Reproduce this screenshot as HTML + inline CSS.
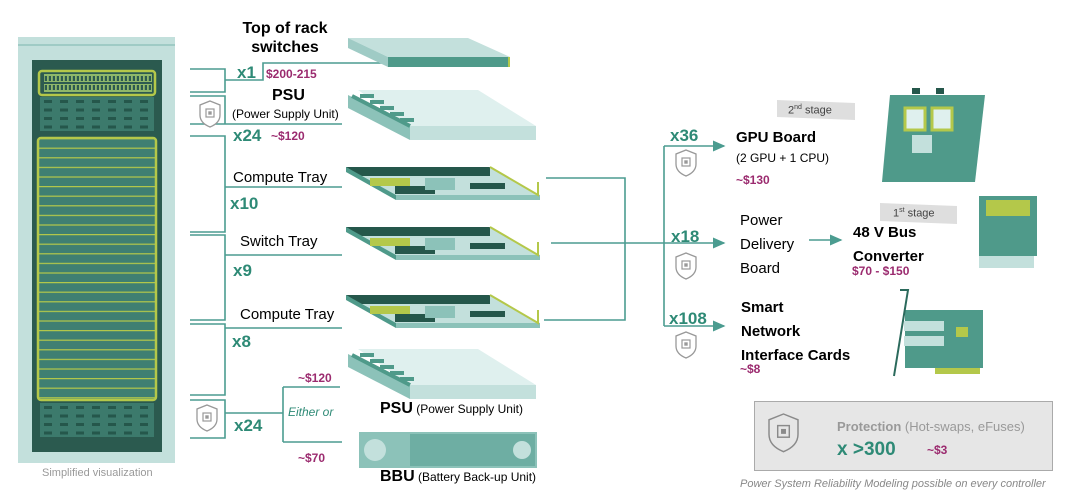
<!DOCTYPE html>
<html><head><meta charset="utf-8"><style>
body{margin:0;background:#fff;width:1080px;height:502px;overflow:hidden;position:relative;font-family:"Liberation Sans",Arial,sans-serif}
.t{position:absolute;white-space:nowrap;line-height:1}
.b{font-weight:bold}
.tl{color:#2e8a76;font-weight:bold;font-size:17px}
.mg{color:#9b2b6f;font-weight:bold;font-size:12px}
</style></head><body>
<svg width="1080" height="502" style="position:absolute;left:0;top:0">
<defs>
<pattern id="rows" x="0" y="138" width="10" height="9.6" patternUnits="userSpaceOnUse"><rect width="10" height="9.6" fill="#3f7f72"/><rect width="10" height="1.2" fill="#b4c84a"/></pattern>
<pattern id="slots" x="40" y="97" width="16" height="8.5" patternUnits="userSpaceOnUse"><rect width="16" height="8.5" fill="#3c7a6c"/><rect x="4" y="3" width="8" height="3" fill="#25574b"/></pattern>
<pattern id="ports" x="44" y="74" width="4" height="9" patternUnits="userSpaceOnUse"><rect width="4" height="9" fill="#8fb86a"/><rect x="0.8" y="2" width="2.2" height="5" fill="#2d5a50"/></pattern>
<marker id="ar" markerWidth="8" markerHeight="8" refX="7" refY="4" orient="auto"><path d="M0,0.5 L8,4 L0,7.5z" fill="#4b9c90"/></marker>
<g id="sh"><path d="M10,0 L20,4 L20,14 Q20,22 10,26 Q0,22 0,14 L0,4z" fill="#fff" stroke="#999" stroke-width="1.3"/><rect x="6" y="8" width="8" height="8" fill="none" stroke="#999" stroke-width="1.2"/><rect x="8.3" y="10.3" width="3.4" height="3.4" fill="#999"/></g>
</defs>
<rect x="18" y="37" width="157" height="426" fill="#c3e0dc"/>
<line x1="18" y1="45" x2="175" y2="45" stroke="#9fcbc5" stroke-width="2"/>
<rect x="32" y="60" width="130" height="392" fill="#2b5a4f"/>
<rect x="39" y="71" width="116" height="24" rx="3" fill="#2d5a50" stroke="#b4c84a" stroke-width="2.5"/>
<rect x="44" y="74" width="108" height="8" fill="url(#ports)"/><rect x="44" y="84" width="108" height="8" fill="url(#ports)"/>
<rect x="40" y="97" width="114" height="34" fill="url(#slots)"/>
<rect x="38" y="138" width="118" height="262" rx="3" fill="url(#rows)" stroke="#b4c84a" stroke-width="2.5"/>
<rect x="40" y="403" width="114" height="34" fill="url(#slots)"/>
<g stroke="#4b9c90" stroke-width="1.6" fill="none">
<path d="M190 69H225V92H190M225 80H263V63H510"/>
<path d="M190 96H225V124H190M225 124H342"/>
<path d="M190 136H225V232H190M225 187H342"/>
<path d="M190 235H225V320H190M225 255H342"/>
<path d="M190 324H225V395H190M225 328H342"/>
<path d="M190 400H225V438H190M225 413H283M283 387V442M283 387H340M283 442H342"/>
<path d="M546 178H625V320H544"/>
<path d="M551 243H724" marker-end="url(#ar)"/>
<path d="M664 146V326"/>
<path d="M664 146H724" marker-end="url(#ar)"/>
<path d="M664 326H724" marker-end="url(#ar)"/>
<path d="M809 240H841" marker-end="url(#ar)"/>
</g>
<use href="#sh" x="200" y="101"/><use href="#sh" x="197" y="405"/>
<use href="#sh" x="676" y="150"/><use href="#sh" x="676" y="253"/><use href="#sh" x="676" y="332"/>
<polygon points="348,38 468,38 510,57 388,57 " fill="#c3e0dc"/>
<polygon points="348,38 388,57 388,67 348,48" fill="#9fcbc5"/>
<rect x="388" y="57" width="120" height="10" fill="#4f9a8a"/><rect x="508" y="57" width="2" height="10" fill="#b4c84a"/>
<g><polygon points="358,90 478,90 536,126 410,126" fill="#dff0ee"/>
<polygon points="348,95 410,126 410,140 348,108" fill="#8cc2b9"/>
<rect x="410" y="126" width="126" height="14" fill="#c3e0dc"/>
<path d="M352 96L410 126M360 96l14 0M370 102l14 0M380 108l14 0M390 114l14 0M400 120l14 0" stroke="#4f9a8a" stroke-width="4"/></g>
<g id="tray"><polygon points="346,167 490,167 540,195 396,195" fill="#c3e0dc"/>
<polygon points="346,167 490,167 490,176 360,176" fill="#25574b"/>
<polygon points="346,167 396,195 396,200 346,172" fill="#4f9a8a"/>
<rect x="396" y="195" width="144" height="5" fill="#8cc2b9"/>
<rect x="370" y="178" width="40" height="8" fill="#b4c84a"/><rect x="395" y="186" width="40" height="8" fill="#25574b"/>
<rect x="425" y="178" width="30" height="12" fill="#8cc2b9"/><rect x="470" y="183" width="35" height="6" fill="#25574b"/>
<path d="M490 167L538 195V182" stroke="#b4c84a" stroke-width="2" fill="none"/></g>
<use href="#tray" y="60"/><use href="#tray" y="128"/>
<g transform="translate(0,259)"><polygon points="358,90 478,90 536,126 410,126" fill="#dff0ee"/>
<polygon points="348,95 410,126 410,140 348,108" fill="#8cc2b9"/>
<rect x="410" y="126" width="126" height="14" fill="#c3e0dc"/>
<path d="M352 96L410 126M360 96l14 0M370 102l14 0M380 108l14 0M390 114l14 0M400 120l14 0" stroke="#4f9a8a" stroke-width="4"/></g>
<rect x="359" y="432" width="178" height="36" fill="#8cc2b9"/><rect x="410" y="434" width="125" height="32" fill="#6eaea3"/>
<circle cx="375" cy="450" r="11" fill="#c3e0dc"/><circle cx="522" cy="450" r="9" fill="#c3e0dc"/>
<polygon points="890,95 985,95 975,182 882,182" fill="#4f9a8a"/>
<rect x="905" y="108" width="20" height="22" fill="#dff0ee" stroke="#b4c84a" stroke-width="3"/><rect x="932" y="108" width="20" height="22" fill="#dff0ee" stroke="#b4c84a" stroke-width="3"/>
<rect x="912" y="135" width="20" height="18" fill="#c3e0dc"/>
<rect x="912" y="88" width="8" height="6" fill="#25574b"/><rect x="936" y="88" width="8" height="6" fill="#25574b"/>
<rect x="979" y="196" width="58" height="60" fill="#4f9a8a"/><rect x="986" y="200" width="44" height="16" fill="#b4c84a"/>
<rect x="979" y="256" width="55" height="12" fill="#c3e0dc"/>
<polygon points="905,310 983,310 983,368 905,368" fill="#4f9a8a"/>
<rect x="904" y="336" width="40" height="10" fill="#c3e0dc"/><rect x="904" y="321" width="40" height="10" fill="#c3e0dc"/>
<rect x="956" y="327" width="12" height="10" fill="#b4c84a"/>
<rect x="935" y="368" width="45" height="6" fill="#b4c84a"/>
<path d="M900 290H908L894 376" stroke="#2b6a5c" stroke-width="2" fill="none"/>
<polygon points="777,100 855,103 855,120 777,117" fill="#dedede"/>
<polygon points="880,203 957,206 957,224 880,221" fill="#dedede"/>
<rect x="754.5" y="401.5" width="298" height="69" fill="#e6e6e6" stroke="#aaa"/>
<g transform="translate(769,414) scale(1.45)"><path d="M10,0 L20,4 L20,14 Q20,22 10,26 Q0,22 0,14 L0,4z" fill="none" stroke="#8a8a8a" stroke-width="1"/><rect x="6" y="8" width="8" height="8" fill="none" stroke="#8a8a8a" stroke-width="1"/><rect x="8.3" y="10.3" width="3.4" height="3.4" fill="#8a8a8a"/></g>
</svg>
<div class="t b" style="left:228px;top:19px;font-size:16px;text-align:center;width:114px;line-height:19px;white-space:normal">Top of rack switches</div>
<div class="t tl" style="left:237px;top:64px">x1</div>
<div class="t mg" style="left:266px;top:68px">$200-215</div>
<div class="t b" style="left:272px;top:88px;font-size:16px">PSU</div>
<div class="t" style="left:232px;top:108px;font-size:12px">(Power Supply Unit)</div>
<div class="t tl" style="left:233px;top:127px">x24</div>
<div class="t mg" style="left:271px;top:130px">~$120</div>
<div class="t" style="left:233px;top:170px;font-size:15px">Compute Tray</div>
<div class="t tl" style="left:230px;top:195px">x10</div>
<div class="t" style="left:240px;top:234px;font-size:15px">Switch Tray</div>
<div class="t tl" style="left:233px;top:262px">x9</div>
<div class="t" style="left:240px;top:307px;font-size:15px">Compute Tray</div>
<div class="t tl" style="left:232px;top:333px">x8</div>
<div class="t mg" style="left:298px;top:372px">~$120</div>
<div class="t" style="left:288px;top:406px;font-size:12px;font-style:italic;color:#2e8a76">Either or</div>
<div class="t tl" style="left:234px;top:417px">x24</div>
<div class="t mg" style="left:298px;top:452px">~$70</div>
<div class="t" style="left:380px;top:401px;font-size:12px"><b style="font-size:16px">PSU</b> (Power Supply Unit)</div>
<div class="t" style="left:380px;top:469px;font-size:12px"><b style="font-size:16px">BBU</b> (Battery Back-up Unit)</div>
<div class="t" style="left:42px;top:468px;font-size:11px;color:#999">Simplified visualization</div>
<div class="t tl" style="left:670px;top:127px">x36</div>
<div class="t tl" style="left:671px;top:228px">x18</div>
<div class="t tl" style="left:669px;top:310px">x108</div>
<div class="t" style="left:788px;top:104px;font-size:11px;color:#444">2<sup style="font-size:7px">nd</sup> stage</div>
<div class="t" style="left:893px;top:207px;font-size:11px;color:#444">1<sup style="font-size:7px">st</sup> stage</div>
<div class="t b" style="left:736px;top:130px;font-size:15px">GPU Board</div>
<div class="t" style="left:736px;top:152px;font-size:12px">(2 GPU + 1 CPU)</div>
<div class="t mg" style="left:736px;top:174px">~$130</div>
<div class="t" style="left:740px;top:209px;font-size:15px;line-height:24px">Power<br>Delivery<br>Board</div>
<div class="t b" style="left:853px;top:221px;font-size:15px;line-height:24px">48 V Bus<br>Converter</div>
<div class="t mg" style="left:852px;top:265px">$70 - $150</div>
<div class="t b" style="left:741px;top:296px;font-size:15px;line-height:24px">Smart<br>Network<br>Interface Cards</div>
<div class="t mg" style="left:740px;top:363px">~$8</div>
<div class="t" style="left:837px;top:420px;font-size:13px;color:#999"><b>Protection</b> (Hot-swaps, eFuses)</div>
<div class="t" style="left:837px;top:440px;font-size:19px;font-weight:bold;color:#2e8a76">x &gt;300</div>
<div class="t mg" style="left:927px;top:444px">~$3</div>
<div class="t" style="left:740px;top:479px;font-size:11px;font-style:italic;color:#888">Power System Reliability Modeling possible on every controller</div>
</body></html>
